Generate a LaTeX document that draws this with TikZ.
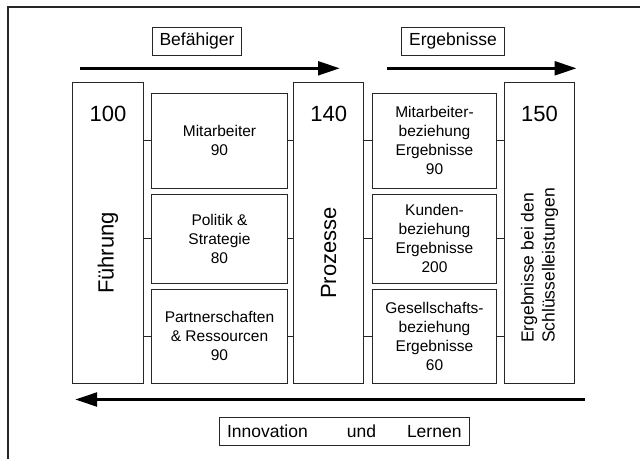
\documentclass[tikz,border=0pt]{standalone}
\usepackage{fontspec}
\setmainfont{Liberation Sans}
\usetikzlibrary{arrows.meta,positioning}

\begin{document}
\begin{tikzpicture}[x=1pt, y=-1pt,
  bigbox/.style={draw=black!85, line width=1pt, minimum width=70.6pt, minimum height=301pt},
  midbox/.style={draw=black!85, line width=1pt, minimum width=135.6pt, align=center, font=\fontsize{15.5}{19}\selectfont},
  numtext/.style={inner sep=0pt, font=\fontsize{22}{26}\selectfont},
  bigtext/.style={rotate=90, inner sep=0pt, font=\fontsize{22}{26}\selectfont},
  tagbox/.style={draw=black!85, line width=1pt, minimum height=28pt, inner xsep=7.5pt, font=\fontsize{17.5}{21}\selectfont},
  link/.style={draw=black!85, line width=1pt},
  flow/.style={-{Triangle[length=22pt, width=13.5pt]}, line width=3.5pt},
  node distance=5pt
]
  \useasboundingbox (0,0) rectangle (640,459);
  \draw[line width=1.2pt, black!85] (640,7) -- (8,7) -- (8,459);

  \node[tagbox] (befaehiger) at (197,41) {Befähiger};
  \node[tagbox] (ergebnisse) at (453,41) {Ergebnisse};
  \coordinate (befstart) at (80,68.3);
  \coordinate (befend) at (340,68.3);
  \coordinate (ergstart) at (386.7,68.3);
  \coordinate (ergend) at (576.7,68.3);
  \draw[flow] (befstart) -- (befend);
  \draw[flow] (ergstart) -- (ergend);

  \node[bigbox] (fuehrung) at (108,232.5) {};
  \node[bigbox] (prozesse) at (328.65,232.5) {};
  \node[bigbox] (schluessel) at (539.5,232.5) {};
  \node[numtext, below=24.5pt of fuehrung.north] (fuehrungnum) {100};
  \node[numtext, below=24.5pt of prozesse.north] (prozessenum) {140};
  \node[numtext, below=24.5pt of schluessel.north] (schluesselnum) {150};
  \node[bigtext] (fuehrungtxt) at ([yshift=-20.5pt]fuehrung.center) {Führung};
  \node[bigtext] (prozessetxt) at ([yshift=-20.5pt]prozesse.center) {Prozesse};
  \node[bigtext, anchor=west, align=left, font=\fontsize{17.5}{21}\selectfont] (schluesseltxt)
    at ([yshift=-110.5pt]schluessel.center) {Ergebnisse bei den\\Schlüsselleistungen};

  \node[midbox, minimum height=95pt] (mitarbeiter) at (219.5,140.5) {Mitarbeiter\\90};
  \node[midbox, minimum height=89pt, below=of mitarbeiter] (politik) {Politik \&\\Strategie\\80};
  \node[midbox, minimum height=94pt, below=of politik] (partner) {Partnerschaften\\\& Ressourcen\\90};
  \node[midbox, minimum width=124.4pt, minimum height=95pt] (mitbez) at (434.5,140.8) {Mitarbeiter-\\beziehung\\Ergebnisse\\90};
  \node[midbox, minimum width=124.4pt, minimum height=89pt, below=of mitbez] (kundbez) {Kunden-\\beziehung\\Ergebnisse\\200};
  \node[midbox, minimum width=124.4pt, minimum height=94pt, below=of kundbez] (gesbez) {Gesellschafts-\\beziehung\\Ergebnisse\\60};

  \foreach \m in {mitarbeiter,politik,partner}
    \draw[link] (fuehrung.east |- \m.west) -- (\m.west) (\m.east) -- (prozesse.west |- \m.east);
  \foreach \m in {mitbez,kundbez,gesbez}
    \draw[link] (prozesse.east |- \m.west) -- (\m.west) (\m.east) -- (schluessel.west |- \m.east);

  \coordinate (lernstart) at (585,399.5);
  \coordinate (lernend) at (75,399.5);
  \draw[flow] (lernstart) -- (lernend);
  \node[tagbox, minimum width=250pt] (innovation) at (344.3,431.2) {Innovation\hspace{39pt}und\hspace{31pt}Lernen};
\end{tikzpicture}
\end{document}
